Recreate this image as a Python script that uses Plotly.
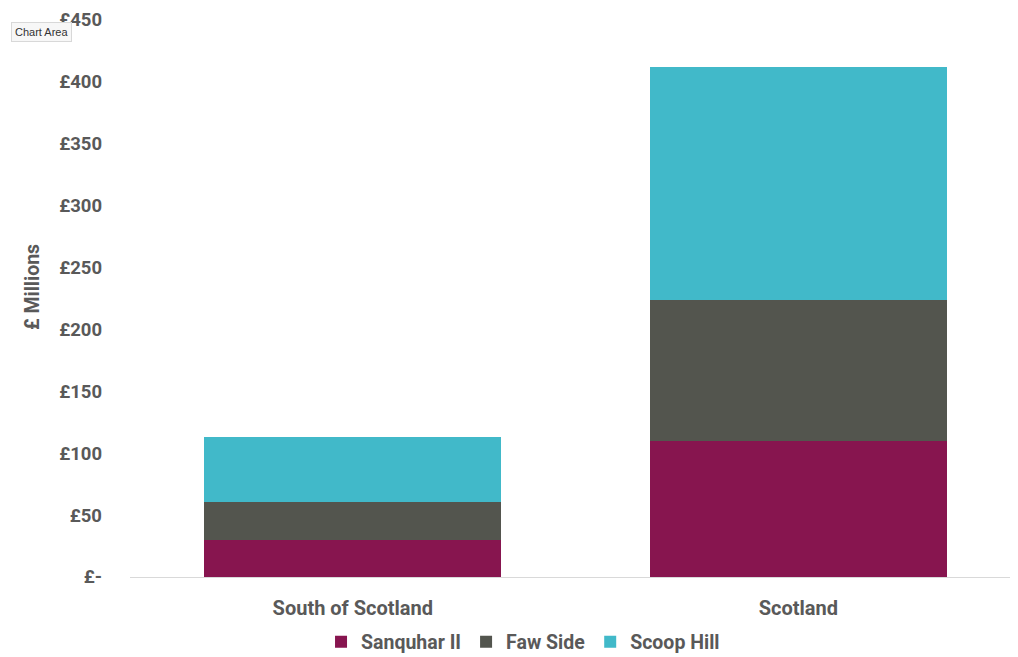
import plotly.graph_objects as go

categories = ["South of Scotland", "Scotland"]
sanquhar = [29.6, 110.0]
faw_side = [31.0, 113.5]
scoop_hill = [52.5, 188.8]

tick_vals = [0, 50, 100, 150, 200, 250, 300, 350, 400, 450]
tick_text = ["£-", "£50", "£100", "£150", "£200", "£250", "£300", "£350", "£400", "£450"]

series = [
    ("Sanquhar II", sanquhar, "#87154F"),
    ("Faw Side", faw_side, "#53554E"),
    ("Scoop Hill", scoop_hill, "#41B9C9"),
]

fig = go.Figure()
for name, vals, col in series:
    fig.add_trace(go.Bar(x=categories, y=vals, name=name, marker=dict(color=col, line=dict(width=0))))

font_col = "#595959"
# the page body has an 8px margin, so the figure is offset by 8px
fig.update_layout(
    barmode="stack",
    bargap=0.333,
    width=1010, height=649,
    margin=dict(l=122, r=0, t=12, b=80, autoexpand=False),
    paper_bgcolor="white", plot_bgcolor="white",
    font=dict(family="Roboto", size=19, color=font_col, weight="bold"),
    showlegend=True,
    legend=dict(orientation="h", x=0.4426, xanchor="center", y=(577 - 642) / 557, yanchor="middle",
                font=dict(size=19.5, color=font_col, family="Roboto", weight="bold"),
                traceorder="normal", itemwidth=30, tracegroupgap=0),
    xaxis=dict(range=[-0.5, 1.493], showgrid=False, showline=True, linecolor="#D9D9D9", linewidth=1,
               ticks="", ticklabelstandoff=13, automargin=False,
               tickfont=dict(size=20, color=font_col, family="Roboto", weight="bold")),
    yaxis=dict(range=[0, 450], tickvals=tick_vals, ticktext=tick_text, showgrid=False, zeroline=False,
               showline=False, ticks="", ticklabelstandoff=27, automargin=False,
               tickfont=dict(size=18.5, color=font_col, family="Roboto", weight="bold")),
)
fig.add_annotation(text="£ Millions", textangle=-90, xref="paper", yref="paper",
                   x=(32 - 130) / 888, y=(577 - 287) / 557, xanchor="center", yanchor="middle",
                   showarrow=False,
                   font=dict(size=19.5, color=font_col, family="Roboto", weight="bold"))
fig.add_annotation(text="Chart Area", xref="paper", yref="paper",
                   x=(11 - 130) / 888, y=(577 - 32) / 557, xanchor="left", yanchor="middle",
                   showarrow=False, bgcolor="#F7F7F7", bordercolor="#D8D8D8", borderwidth=1, borderpad=3,
                   font=dict(size=11, color="#333333", family="Liberation Sans", weight="normal"))

fig.write_html("out.html")
